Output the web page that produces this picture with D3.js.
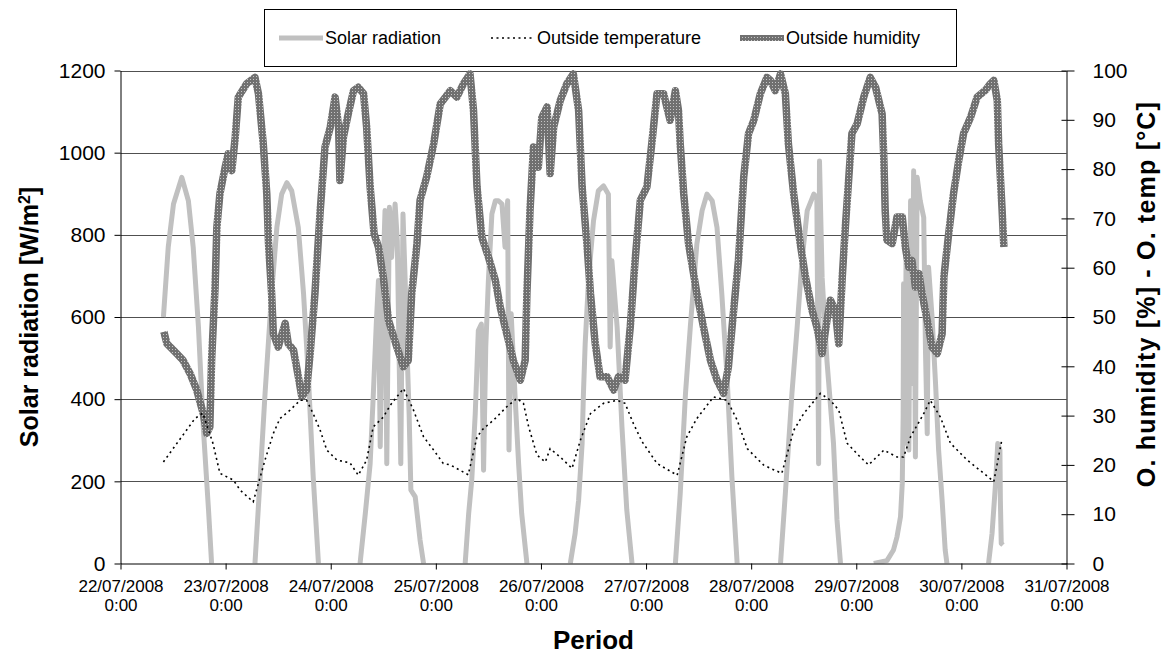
<!DOCTYPE html>
<html>
<head>
<meta charset="utf-8">
<script src="https://cdn.jsdelivr.net/npm/d3@7"></script>
<style>
  body { margin: 0; background: #fff; }
  svg { display: block; font-family: "Liberation Sans", Arial, sans-serif; }
</style>
</head>
<body>
<script>
// time is given in hours after 22/07/2008 0:00
const solar = [
  [9.8,600],[10.9,770],[12.1,875],[14.0,940],[15.5,883],[16.6,770],[17.8,575],[18.9,332],[20.1,130],[20.8,0],
  [30.7,0],[31.9,211],[33.0,413],[34.5,656],[35.7,818],[36.8,899],[38.0,927],[39.1,907],[40.6,818],[41.8,656],[42.9,454],[44.0,211],[45.2,0],
  [54.7,0],[55.9,122],[57.0,243],[57.7,405],[58.4,583],[58.9,689],[59.3,284],[59.9,689],[60.4,859],[60.8,243],[61.4,867],[61.9,745],[62.7,875],[63.2,786],[64.0,243],[64.5,851],[65.0,689],[65.4,527],[65.9,365],[66.3,179],[67.3,162],[68.4,57],[69.2,0],
  [78.7,0],[79.5,122],[80.2,203],[81.0,365],[81.7,567],[82.4,583],[82.9,227],[83.4,527],[84.0,689],[84.8,851],[85.6,883],[86.3,883],[87.1,875],[87.8,770],[88.4,883],[88.7,276],[89.2,608],[90.1,405],[90.9,243],[91.6,122],[92.8,0],
  [102.7,0],[103.8,73],[104.6,154],[105.4,292],[105.7,413],[106.1,535],[106.9,697],[108.0,834],[109.1,907],[110.3,919],[111.4,899],[111.8,527],[112.2,737],[113.4,575],[114.5,332],[115.6,130],[116.8,0],
  [126.7,0],[127.8,170],[129.0,413],[130.1,575],[131.6,778],[132.8,859],[133.9,899],[135.1,883],[136.2,818],[137.3,656],[138.5,454],[139.6,211],[140.8,0],
  [150.7,0],[151.8,170],[153.3,413],[154.5,575],[155.6,737],[156.8,859],[158.3,899],[159.0,891],[159.4,243],[159.6,980],[160.2,697],[161.3,494],[162.8,292],[163.6,106],[164.4,0],
  [172.0,0],[175.0,7],[176.5,33],[177.3,65],[178.1,114],[178.5,195],[178.7,357],[178.8,681],[179.1,292],[179.4,802],[180.0,276],[180.4,883],[180.7,438],[181.1,956],[181.5,259],[181.9,940],[182.6,883],[183.4,842],[183.8,519],[184.2,316],[184.5,721],[185.3,600],[186.1,438],[186.8,276],[187.6,154],[188.3,33],[188.7,0],
  [198.2,0],[199.0,73],[199.8,195],[200.3,292],[200.8,276],[200.9,154],[201.1,49],[201.5,45]
];

const temperature = [
  [9.8,20.6],[17.0,29.4],[18.8,30.5],[21.1,24.4],[22.7,18.3],[25.8,16.9],[27.3,14.9],[30.3,12.5],[33.0,21.0],[34.9,26.4],
  [36.4,29.4],[38.7,31.1],[41.0,33.1],[42.5,33.1],[44.0,30.4],[45.6,27.0],[47.1,23.0],[49.4,21.0],[52.4,20.4],[54.3,17.9],
  [56.2,21.0],[57.7,27.7],[60.0,29.7],[61.6,32.1],[64.6,35.5],[66.9,31.1],[69.2,25.7],[71.5,23.0],[73.7,20.3],[75.3,20.0],
  [79.4,18.0],[81.4,25.7],[82.9,27.4],[85.2,29.1],[88.2,31.8],[90.5,33.5],[92.0,32.5],[93.2,27.7],[95.1,22.0],[97.0,20.6],
  [98.1,23.3],[100.4,21.6],[103.1,19.3],[105.0,25.0],[107.3,30.4],[110.3,32.5],[113.4,33.1],[115.2,32.5],[117.1,28.4],[119.1,24.7],
  [122.5,20.3],[127.1,17.9],[129.3,25.7],[131.6,29.4],[135.4,33.8],[138.5,33.1],[140.8,29.1],[143.1,23.3],[146.8,20.0],[148.4,19.3],
  [151.0,18.3],[153.7,27.0],[156.0,30.4],[159.8,34.5],[162.1,33.1],[164.0,31.1],[165.9,24.4],[168.9,21.6],[170.8,20.0],[174.3,23.0],
  [177.3,21.6],[178.8,21.6],[180.4,25.7],[183.4,30.4],[184.9,33.1],[187.2,29.7],[189.5,24.4],[193.3,21.0],[197.1,18.3],[199.4,16.6],
  [201.3,25.4]
];

const humidity = [
  [9.9,47],[10.6,44.6],[12.8,42.6],[14.3,41.2],[15.9,38.5],[17.4,35.2],[18.9,30.4],[19.7,26.4],[20.4,27.7],[20.8,41.2],
  [21.6,56.1],[22.0,68.2],[22.7,75],[23.9,80.4],[24.6,83.1],[25.4,79.7],[26.2,86.5],[26.9,94.6],[28.8,97.3],[30.7,98.6],
  [31.5,95.3],[32.6,85.1],[33.4,75],[33.8,64.9],[34.5,54.8],[34.9,46.6],[36.0,43.9],[37.6,48.7],[38.3,44.6],[39.5,43.3],
  [40.6,37.9],[41.4,33.8],[42.5,35.2],[43.3,42.6],[44.4,54.8],[45.6,71.6],[46.7,84.5],[47.9,88.5],[49.0,94.6],[49.8,88.5],
  [50.1,77.7],[50.9,86.5],[52.0,91.2],[53.2,95.9],[54.3,96.6],[55.5,95.3],[56.2,88.5],[57.0,76.4],[57.9,66.9],[58.9,64.2],
  [60.0,58.1],[61.2,49.3],[63.1,43.9],[64.6,39.9],[65.7,41.2],[66.5,54.8],[67.7,64.9],[68.4,73.7],[69.9,78.4],[71.5,85.1],
  [73.0,93.2],[75.3,95.9],[76.8,94.6],[78.3,97.3],[79.8,99.3],[80.6,91.9],[81.4,76.4],[82.5,66.2],[84.0,62.2],[85.6,57.4],
  [86.7,52],[88.2,46.6],[89.7,41.2],[91.3,37.2],[92.4,41.2],[92.8,54.8],[93.5,71.6],[94.3,84.5],[95.4,80.4],[96.2,90.5],
  [97.4,92.6],[98.1,79.1],[98.9,88.5],[100.4,93.9],[101.9,97.3],[103.4,99.3],[104.6,91.9],[105.4,76.4],[106.5,64.9],[107.3,54.8],
  [108.4,44.6],[109.5,37.9],[111.1,37.9],[112.6,35.2],[113.7,37.9],[115.2,37.2],[116.4,48],[117.5,61.5],[118.7,73.7],[120.2,76.4],
  [121.3,85.1],[122.5,95.3],[124.0,95.3],[125.5,89.9],[126.7,95.9],[127.4,91.9],[127.8,85.1],[128.6,75],[129.7,64.9],[131.6,54.8],
  [133.1,48],[134.7,41.2],[136.2,37.2],[137.7,34.5],[138.8,39.9],[140.0,51.4],[141.1,61.5],[142.3,78.4],[143.4,87.2],[144.6,89.9],
  [146.1,95.3],[147.6,98.6],[148.4,98],[149.5,95.9],[150.7,99.3],[151.8,95.3],[152.5,85.1],[153.7,75],[155.2,64.9],[156.4,58.1],
  [157.9,51.4],[159.0,48],[160.2,42.6],[161.3,49.3],[162.1,53.4],[163.2,51.4],[164.0,44.6],[164.8,58.1],[165.5,68.2],[166.3,78.4],
  [167.0,87.2],[168.2,89.2],[169.7,94.6],[171.2,98.6],[172.4,96.6],[173.9,91.2],[174.3,81.8],[174.6,71.6],[175.0,65.6],[176.2,64.9],
  [177.3,70.3],[178.5,70.3],[179.2,64.2],[180.0,60.1],[180.7,61.5],[181.5,56.1],[182.3,58.8],[183.0,54.8],[184.2,49.3],[185.3,43.9],
  [186.5,42.6],[187.6,46.6],[188.0,58.1],[189.1,66.9],[190.2,75],[191.4,81.8],[192.5,87.2],[194.1,90.5],[195.6,94.6],[197.5,96],
  [198.6,97.3],[199.4,98],[200.2,93.9],[200.5,85.1],[201.3,71.6],[201.7,64.2]
];

const solarTicks = [0, 200, 400, 600, 800, 1000, 1200];
const rightTicks = [0, 10, 20, 30, 40, 50, 60, 70, 80, 90, 100];
const legendLabels = ["Solar radiation", "Outside temperature", "Outside humidity"];

const width = 1162;
const height = 656;
const plot = { left: 120.5, right: 1066.5, top: 70.5, bottom: 563.5 };

const svg = d3.select("body").append("svg")
  .attr("width", width)
  .attr("height", height);

const defs = svg.append("defs");
// texture used by the humidity line
const pat = defs.append("pattern")
  .attr("id", "humidTex")
  .attr("patternUnits", "userSpaceOnUse")
  .attr("width", 3).attr("height", 3);
pat.append("rect").attr("width", 3).attr("height", 3).attr("fill", "#707070");
pat.append("rect").attr("x", 1).attr("y", 1).attr("width", 1).attr("height", 1).attr("fill", "#c6c6c6");

defs.append("clipPath").attr("id", "plotClip")
  .append("rect").attr("x", 0).attr("y", 0).attr("width", width).attr("height", plot.bottom);

// scales
const t0 = new Date(2008, 6, 22);
const toDate = h => new Date(t0.getTime() + h * 3600e3);
const x = d3.scaleTime().domain([t0, new Date(2008, 6, 31)]).range([plot.left, plot.right]);
const yL = d3.scaleLinear().domain([0, 1200]).range([plot.bottom, plot.top]);
const yR = d3.scaleLinear().domain([0, 100]).range([plot.bottom, plot.top]);

// gridlines
svg.append("g").selectAll("line")
  .data(solarTicks.filter(d => d > 0))
  .join("line")
  .attr("x1", plot.left).attr("x2", plot.right)
  .attr("y1", d => Math.round(yL(d)) + 0.5).attr("y2", d => Math.round(yL(d)) + 0.5)
  .attr("stroke", "#505050").attr("stroke-width", 1);

// series
const lineL = d3.line().x(d => x(toDate(d[0]))).y(d => yL(d[1]));
const lineR = d3.line().x(d => x(toDate(d[0]))).y(d => yR(d[1]));

// solar radiation is drawn one day at a time (nothing is drawn over the night)
const solarDays = [];
solar.forEach((d, i) => {
  const prev = solar[i - 1];
  if (!prev || (prev[1] === 0 && d[1] === 0)) solarDays.push([]);
  solarDays[solarDays.length - 1].push(d);
});

svg.append("g").attr("clip-path", "url(#plotClip)")
  .selectAll("path").data(solarDays).join("path")
  .attr("d", lineL)
  .attr("fill", "none").attr("stroke", "#c0c0c0").attr("stroke-width", 5)
  .attr("stroke-linejoin", "round");

svg.append("path").attr("d", lineR(humidity))
  .attr("fill", "none").attr("stroke", "url(#humidTex)").attr("stroke-width", 7.5)
  .attr("stroke-linejoin", "round");

svg.append("path").attr("d", lineR(temperature))
  .attr("fill", "none").attr("stroke", "#000").attr("stroke-width", 1.6)
  .attr("stroke-dasharray", "2,3.5");

// axes
const styleAxis = g => {
  g.selectAll("path, line").attr("stroke", "#000");
  g.selectAll("text").attr("fill", "#000").attr("font-family", "Liberation Sans, Arial, sans-serif");
};

svg.append("g")
  .attr("transform", `translate(${plot.left},0)`)
  .call(d3.axisLeft(yL).tickValues(solarTicks).tickFormat(d3.format("d"))
    .tickSize(6).tickSizeOuter(0).tickPadding(9))
  .call(styleAxis)
  .call(g => g.selectAll("text").attr("font-size", 21));

svg.append("g")
  .attr("transform", `translate(${plot.right},0)`)
  .call(d3.axisRight(yR).tickValues(rightTicks).tickFormat(d3.format("d"))
    .tickSize(8).tickSizeOuter(0).tickPadding(18))
  .call(styleAxis)
  .call(g => g.selectAll("text").attr("font-size", 21));

// inner marks of the right axis
svg.append("g")
  .attr("transform", `translate(${plot.right},0)`)
  .call(d3.axisRight(yR).tickValues(rightTicks).tickSize(-5).tickSizeOuter(0).tickFormat(""))
  .call(styleAxis)
  .call(g => g.select(".domain").remove());

const fmtDate = d3.timeFormat("%d/%m/%Y");
svg.append("g")
  .attr("transform", `translate(0,${plot.bottom})`)
  .call(d3.axisBottom(x).ticks(d3.timeDay.every(1)).tickSize(6).tickSizeOuter(0).tickFormat(fmtDate))
  .call(styleAxis)
  .call(g => g.selectAll(".tick text").each(function(d) {
    const t = d3.select(this).text(null).attr("y", 28).attr("dy", null).attr("font-size", 17);
    t.append("tspan").attr("x", 0).text(fmtDate(d));
    t.append("tspan").attr("x", 0).attr("dy", 19).text("0:00");
  }));

// titles
svg.append("text")
  .attr("x", (plot.left + plot.right) / 2).attr("y", 649)
  .attr("text-anchor", "middle").attr("font-weight", "bold").attr("font-size", 26)
  .text("Period");

const lt = svg.append("text")
  .attr("transform", "translate(29,317) rotate(-90)")
  .attr("text-anchor", "middle").attr("dy", "0.35em")
  .attr("font-weight", "bold").attr("font-size", 25);
lt.append("tspan").text("Solar radiation [W/m");
lt.append("tspan").attr("baseline-shift", "super").attr("font-size", 16).text("2");
lt.append("tspan").text("]");

svg.append("text")
  .attr("transform", "translate(1146,294) rotate(-90)")
  .attr("text-anchor", "middle").attr("dy", "0.35em")
  .attr("font-weight", "bold").attr("font-size", 25).attr("letter-spacing", 1.2)
  .text("O. humidity [%] - O. temp [°C]");

// legend
const legend = svg.append("g");
legend.append("rect")
  .attr("x", 264.5).attr("y", 9.5).attr("width", 692).attr("height", 57)
  .attr("fill", "#fff").attr("stroke", "#000");

const legendX = [279, 491, 740];
const legendSwatch = [
  g => g.attr("stroke", "#c0c0c0").attr("stroke-width", 5),
  g => g.attr("stroke", "#000").attr("stroke-width", 1.6).attr("stroke-dasharray", "2,3.5"),
  g => g.attr("stroke", "url(#humidTex)").attr("stroke-width", 6)
];
legendLabels.forEach((label, i) => {
  legend.append("line")
    .attr("x1", legendX[i]).attr("x2", legendX[i] + 44)
    .attr("y1", 38).attr("y2", 38)
    .call(legendSwatch[i]);
  legend.append("text")
    .attr("x", legendX[i] + 46).attr("y", 38).attr("dy", "0.35em")
    .attr("font-size", 18)
    .text(label);
});
</script>
</body>
</html>
